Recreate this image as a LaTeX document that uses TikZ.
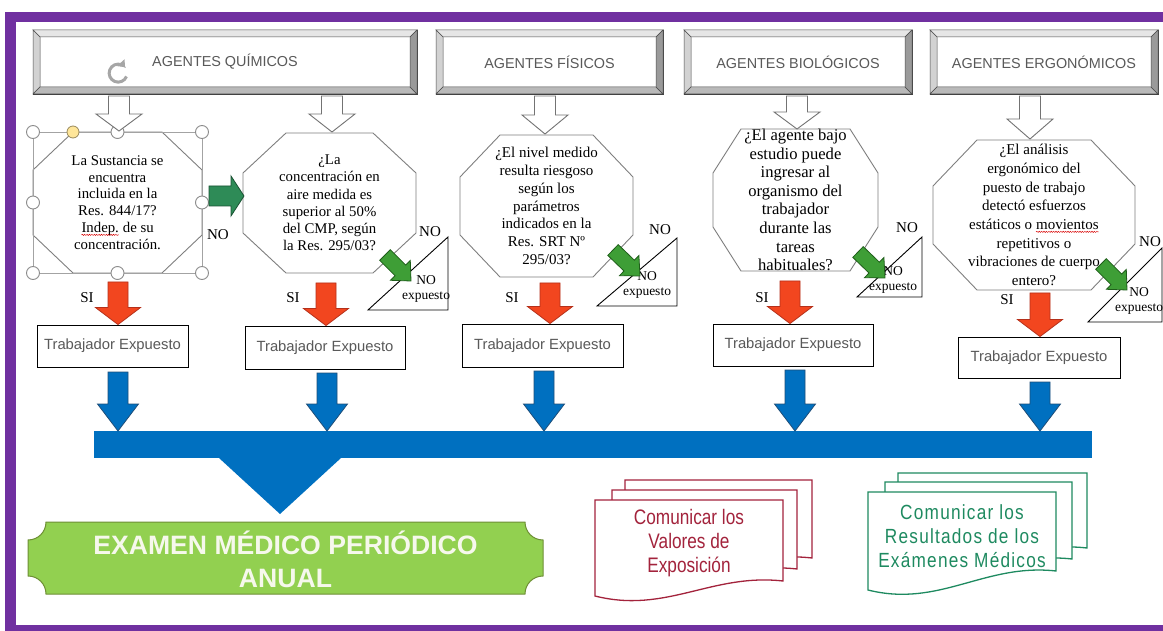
\documentclass[tikz,border=0pt]{standalone}
\usepackage{fontspec}
\setmainfont{Liberation Serif}
\newfontfamily\arialfont{Liberation Sans}
\newfontfamily\narrowfont[FakeStretch=0.82]{Liberation Sans}
\newfontfamily\spacedfont[FakeStretch=0.84,LetterSpace=6]{Liberation Sans}
\usetikzlibrary{calc,arrows.meta,decorations.pathmorphing}

\definecolor{framepurple}{HTML}{7030A0}
\definecolor{hdrtext}{HTML}{595959}
\definecolor{bevtop}{HTML}{E6E6E6}
\definecolor{bevleft}{HTML}{D2D2D2}
\definecolor{bevbottom}{HTML}{B9B9B9}
\definecolor{bevright}{HTML}{9A9A9A}
\definecolor{octline}{HTML}{7F7F7F}
\definecolor{redfill}{HTML}{F2461F}
\definecolor{redline}{HTML}{B5301A}
\definecolor{greenfill}{HTML}{3E9E36}
\definecolor{greenline}{HTML}{1F5E1A}
\definecolor{tealfill}{HTML}{2E8B57}
\definecolor{tealline}{HTML}{1A5233}
\definecolor{bluefill}{HTML}{0070C0}
\definecolor{blueline}{HTML}{1F4E79}
\definecolor{bannerfill}{HTML}{92D050}
\definecolor{bannerline}{HTML}{6E8F35}
\definecolor{bannertext}{HTML}{F6F8EC}
\definecolor{docred}{HTML}{A3233C}
\definecolor{docgreen}{HTML}{1E8A60}
\definecolor{handlegray}{HTML}{8C8C8C}
\definecolor{handleyellow}{HTML}{FFE699}

% word marked by the spell checker: red wavy underline
\newcommand\spellerr[1]{\tikz[baseline=(sw.base)]{\node[shape=rectangle,draw=none,fill=none,inner sep=0pt,outer sep=0pt,minimum width=0pt,minimum height=0pt,anchor=base] (sw) at (0,0) {#1};\draw[draw=red!85!black,line width=0.45pt,decorate,decoration={snake,amplitude=0.6pt,segment length=2.4pt}] ([yshift=-2.4pt]sw.base west) -- ([yshift=-2.4pt]sw.base east);}}

% block arrow: #1 style, #2 tail, #3 tip, #4 half shaft, #5 half head, #6 head length
\newcommand\blockarrow[6]{%
  \path ($(#3)!#6!(#2)$) coordinate (bah);
  \draw[#1] ($(#2)!#4!90:(#3)$) -- ($(bah)!#4!90:(#3)$) -- ($(bah)!#5!90:(#3)$) -- (#3)
    -- ($(bah)!#5!-90:(#3)$) -- ($(bah)!#4!-90:(#3)$) -- ($(#2)!#4!-90:(#3)$) -- cycle;}

% octagon around a node: #1 node, #2 horizontal cut, #3 vertical cut
\newcommand\octframe[3]{%
  \draw[octa] ($(#1.north west)+(#2,0)$) -- ($(#1.north east)+(-#2,0)$) -- ($(#1.north east)+(0,#3)$)
    -- ($(#1.south east)+(0,-#3)$) -- ($(#1.south east)+(-#2,0)$) -- ($(#1.south west)+(#2,0)$)
    -- ($(#1.south west)+(0,-#3)$) -- ($(#1.north west)+(0,#3)$) -- cycle;}

% bevelled frame of a header node: #1 node, #2 bevel width
\newcommand\bevelframe[2]{%
  \coordinate (bnw) at ($(#1.north west)+(#2,#2)$);
  \coordinate (bne) at ($(#1.north east)+(-#2,#2)$);
  \coordinate (bse) at ($(#1.south east)+(-#2,-#2)$);
  \coordinate (bsw) at ($(#1.south west)+(#2,-#2)$);
  \filldraw[bevedge,fill=bevtop] (#1.north west) -- (#1.north east) -- (bne) -- (bnw) -- cycle;
  \filldraw[bevedge,fill=bevleft] (#1.north west) -- (bnw) -- (bsw) -- (#1.south west) -- cycle;
  \filldraw[bevedge,fill=bevbottom] (#1.south west) -- (bsw) -- (bse) -- (#1.south east) -- cycle;
  \filldraw[bevedge,fill=bevright] (#1.north east) -- (#1.south east) -- (bse) -- (bne) -- cycle;}

% one sheet of a multi-page document: #1 style, #2 x0, #3 top, #4 x1, #5 bottom left, #6 bottom right
\newcommand\docpage[6]{%
  \filldraw[#1] (#2,#3) -- (#4,#3) -- (#4,#6)
    .. controls ({#2+0.62*(#4-#2)},{#6-8}) and ({#2+0.38*(#4-#2)},{#5+18}) .. (#2,#5) -- cycle;}

\begin{document}
\begin{tikzpicture}[x=1pt,y=-1pt,
  hdr/.style={draw=black!75,fill=white,minimum height=64pt,inner sep=0pt,outer sep=0pt,
    font=\arialfont\fontsize{14.4}{16}\selectfont,text=hdrtext},
  bevedge/.style={draw=black!70,line width=0.5pt},
  qbox/.style={shape=rectangle,inner sep=0pt,outer sep=0pt,align=center},
  octa/.style={draw=octline,line width=0.9pt},
  hollow/.style={draw=black!55,fill=white,line width=0.9pt},
  redarrow/.style={draw=redline,fill=redfill,line width=0.8pt},
  greenarrow/.style={draw=greenline,fill=greenfill,line width=0.8pt},
  tealarrow/.style={draw=tealline,fill=tealfill,line width=0.8pt},
  bluearrow/.style={draw=blueline,fill=bluefill,line width=0.8pt},
  worker/.style={draw=black,line width=0.9pt,fill=white,inner sep=0pt,
    font=\arialfont\fontsize{14.8}{16}\selectfont,text=hdrtext},
  lbl/.style={inner sep=0pt,font=\fontsize{15}{17}\selectfont},
  notri/.style={draw=black,line width=0.9pt,fill=white,line join=miter},
  notxt/.style={inner sep=0pt,align=center,font=\fontsize{13.5}{15.5}\selectfont},
  handle/.style={draw=handlegray,fill=white,line width=0.9pt},
  redpage/.style={draw=docred,line width=1.3pt,fill=white},
  greenpage/.style={draw=docgreen,line width=1.3pt,fill=white}]

\useasboundingbox (0,0) rectangle (1163,631);
\fill[white] (0,0) rectangle (1163,631);

% purple frame
\fill[framepurple] (5,12) rectangle (1163,22);
\fill[framepurple] (5,12) rectangle (16,631);
\fill[framepurple] (5,625) rectangle (1163,631);

% header boxes
\node[hdr,minimum width=384pt] (h1) at (225,62) {AGENTES QUÍMICOS};
\node[hdr,minimum width=227pt] (h2) at (549.5,62) {AGENTES FÍSICOS};
\node[hdr,minimum width=228pt] (h3) at (798,62) {AGENTES BIOLÓGICOS};
\node[hdr,minimum width=228pt] (h4) at (1044,62) {AGENTES ERGONÓMICOS};
\bevelframe{h1}{7}
\bevelframe{h2}{7}
\bevelframe{h3}{7}
\bevelframe{h4}{7}

% question octagons
\node[qbox,minimum width=169pt,minimum height=141pt,font=\fontsize{14.8}{16.8}\selectfont] (o1) at (117.5,202.5)
  {La Sustancia se\\encuentra\\incluida en la\\Res. 844/17?\\\spellerr{Indep.} de su\\concentración.};
\node[qbox,minimum width=173pt,minimum height=140pt,font=\fontsize{14.8}{17.3}\selectfont] (o2) at (329.5,203)
  {¿La\\concentración en\\aire medida es\\superior al 50\%\\del CMP, según\\la Res. 295/03?};
\node[qbox,minimum width=173pt,minimum height=142pt,font=\fontsize{15}{17.8}\selectfont] (o3) at (546.5,206)
  {¿El nivel medido\\resulta riesgoso\\según los\\parámetros\\indicados en la\\Res. SRT Nº\\295/03?};
\node[qbox,minimum width=165pt,minimum height=142pt,font=\fontsize{16.6}{18.6}\selectfont] (o4) at (795.5,200)
  {¿El agente bajo\\estudio puede\\ingresar al\\organismo del\\trabajador\\durante las\\tareas\\habituales?};
\node[qbox,minimum width=202pt,minimum height=150pt,font=\fontsize{15}{18.7}\selectfont] (o5) at (1034,215)
  {¿El análisis\\ergonómico del\\puesto de trabajo\\detectó esfuerzos\\estáticos o \spellerr{movientos}\\repetitivos o\\vibraciones de cuerpo\\entero?};
\octframe{o1}{40}{38}
\octframe{o2}{43}{40}
\octframe{o3}{40}{42}
\octframe{o4}{28}{44}
\octframe{o5}{44}{46}

% selection frame of the first octagon
\draw[draw=handlegray!80,line width=0.6pt] (o1.north west) rectangle (o1.south east);
\foreach \p in {north west,north,north east,east,south east,south,south west,west}
  \draw[handle] (o1.\p) circle[radius=6.5pt];
\draw[draw=handleyellow!60!black,fill=handleyellow,line width=0.8pt] ($(o1.north west)+(40,0)$) circle[radius=6pt];
\coordinate (rot) at (118,80);
\draw[draw=black!35,line width=3pt,-{Triangle[length=6pt,width=10pt]}]
  ($(rot)+(8.5,-3.5)$) arc[start angle=-22,end angle=-318,radius=9pt];

% hollow arrows from the headers
\coordinate (a1s) at (119,96);   \coordinate (a1e) at (119,131);
\coordinate (a2s) at (332,96);   \coordinate (a2e) at (332,132);
\coordinate (a3s) at (545,96);   \coordinate (a3e) at (545,134);
\coordinate (a4s) at (797,96);   \coordinate (a4e) at (797,129);
\coordinate (a5s) at (1030,96);  \coordinate (a5e) at (1030,139);
\blockarrow{hollow}{a1s}{a1e}{10.5pt}{23pt}{17pt}
\blockarrow{hollow}{a2s}{a2e}{10.5pt}{23pt}{18pt}
\blockarrow{hollow}{a3s}{a3e}{10.5pt}{23pt}{19pt}
\blockarrow{hollow}{a4s}{a4e}{10.5pt}{23pt}{17pt}
\blockarrow{hollow}{a5s}{a5e}{10.5pt}{23pt}{20pt}

% NO branch of the first question
\coordinate (g1s) at (209,196);  \coordinate (g1e) at (244,196);
\blockarrow{tealarrow}{g1s}{g1e}{10pt}{20pt}{13pt}
\node[lbl] (no1) at (218,235) {NO};

% "NO expuesto" triangles
\coordinate (n2) at (448,310);
\coordinate (n3) at (677,306);
\coordinate (n4) at (922,297);
\coordinate (n5) at (1162,322);
\draw[notri] (n2) -- ++(-80,0) -- ++(80,-73) -- cycle;
\draw[notri] (n3) -- ++(-80,0) -- ++(80,-68) -- cycle;
\draw[notri] (n4) -- ++(-65,0) -- ++(65,-60) -- cycle;
\draw[notri] (n5) -- ++(-74,0) -- ++(74,-74) -- cycle;
\node[notxt] (t2) at ($(n2)+(-22,-21)$) {NO\\expuesto};
\node[notxt] (t3) at ($(n3)+(-30,-21)$) {NO\\expuesto};
\node[notxt] (t4) at ($(n4)+(-29,-17)$) {NO\\expuesto};
\node[notxt] (t5) at ($(n5)+(-23,-21)$) {NO\\expuesto};
\node[lbl] (no2) at (430,232) {NO};
\node[lbl] (no3) at (660,230) {NO};
\node[lbl] (no4) at (907,228) {NO};
\node[lbl] (no5) at (1150,242) {NO};
\coordinate (g2s) at (385,255);  \coordinate (g2e) at (411,281);
\coordinate (g3s) at (613,250);  \coordinate (g3e) at (640,276);
\coordinate (g4s) at (858,252);  \coordinate (g4e) at (885,278);
\coordinate (g5s) at (1101,264); \coordinate (g5e) at (1127,290);
\blockarrow{greenarrow}{g2s}{g2e}{7.5pt}{14pt}{15pt}
\blockarrow{greenarrow}{g3s}{g3e}{7.5pt}{14pt}{15pt}
\blockarrow{greenarrow}{g4s}{g4e}{7.5pt}{14pt}{15pt}
\blockarrow{greenarrow}{g5s}{g5e}{7.5pt}{14pt}{15pt}

% "Trabajador Expuesto" boxes
\node[worker,minimum width=151pt,minimum height=42pt] (w1) at (112.5,346) {Trabajador Expuesto};
\node[worker,minimum width=160pt,minimum height=43pt] (w2) at (325,347.5) {Trabajador Expuesto};
\node[worker,minimum width=161pt,minimum height=43pt] (w3) at (542.5,345.5) {Trabajador Expuesto};
\node[worker,minimum width=160pt,minimum height=42pt] (w4) at (793,345) {Trabajador Expuesto};
\node[worker,minimum width=162pt,minimum height=41pt] (w5) at (1039,357.5) {Trabajador Expuesto};

% SI branches
\coordinate (r1s) at (118,282);  \coordinate (r1e) at ($(w1.north)+(5.5,0)$);
\coordinate (r2s) at (326,283);  \coordinate (r2e) at ($(w2.north)+(1,0)$);
\coordinate (r3s) at (550,283);  \coordinate (r3e) at ($(w3.north)+(7.5,0)$);
\coordinate (r4s) at (790,281);  \coordinate (r4e) at ($(w4.north)+(-3,0)$);
\coordinate (r5s) at (1040,293); \coordinate (r5e) at ($(w5.north)+(1,0)$);
\blockarrow{redarrow}{r1s}{r1e}{10pt}{22.5pt}{17pt}
\blockarrow{redarrow}{r2s}{r2e}{10pt}{22.5pt}{17pt}
\blockarrow{redarrow}{r3s}{r3e}{10pt}{22.5pt}{17pt}
\blockarrow{redarrow}{r4s}{r4e}{10pt}{22.5pt}{17pt}
\blockarrow{redarrow}{r5s}{r5e}{10pt}{22.5pt}{17pt}
\node[lbl] (si1) at (87,298) {SI};
\node[lbl] (si2) at (293,298) {SI};
\node[lbl] (si3) at (512,298) {SI};
\node[lbl] (si4) at (762,298) {SI};
\node[lbl] (si5) at (1007,300) {SI};

% collecting bar
\fill[bluefill] (94,431) rectangle (1092,458);
\fill[bluefill] (219,458) -- (341,458) -- (280,514) -- cycle;
\coordinate (b1s) at (118,372);  \coordinate (b1e) at (118,431);
\coordinate (b2s) at (327,373);  \coordinate (b2e) at (327,431);
\coordinate (b3s) at (544,371);  \coordinate (b3e) at (544,431);
\coordinate (b4s) at (795,370);  \coordinate (b4e) at (795,431);
\coordinate (b5s) at (1040,382); \coordinate (b5e) at (1040,431);
\blockarrow{bluearrow}{b1s}{b1e}{10pt}{20.5pt}{27pt}
\blockarrow{bluearrow}{b2s}{b2e}{10pt}{20.5pt}{27pt}
\blockarrow{bluearrow}{b3s}{b3e}{10pt}{20.5pt}{27pt}
\blockarrow{bluearrow}{b4s}{b4e}{10pt}{20.5pt}{27pt}
\blockarrow{bluearrow}{b5s}{b5e}{10pt}{20.5pt}{27pt}

% periodic medical examination banner
\filldraw[draw=bannerline,fill=bannerfill,line width=1pt]
  (46,522) -- (525,522) .. controls (525,532) and (533,540) .. (543,540) -- (543,576)
  .. controls (533,576) and (525,584) .. (525,594) -- (46,594)
  .. controls (46,584) and (38,576) .. (28,576) -- (28,540)
  .. controls (38,540) and (46,532) .. (46,522) -- cycle;
\node[inner sep=0pt,align=center,text=bannertext,font=\arialfont\bfseries\fontsize{26.6}{33}\selectfont]
  (exam) at (285.5,559) {EXAMEN MÉDICO PERIÓDICO\\ANUAL};

% communication documents
\docpage{redpage}{625}{480}{812}{570}{558}
\docpage{redpage}{612}{490}{797}{582}{569}
\docpage{redpage}{595}{500}{783}{596}{581}
\node[inner sep=0pt,align=center,text=docred,font=\narrowfont\fontsize{21}{24}\selectfont]
  (docA) at (689,543) {Comunicar los\\Valores de\\Exposición};
\docpage{greenpage}{898}{473}{1087}{561}{548}
\docpage{greenpage}{885}{482}{1072}{575}{559}
\docpage{greenpage}{868}{492}{1056}{590}{571}
\node[inner sep=0pt,align=center,text=docgreen,font=\spacedfont\fontsize{20.5}{24}\selectfont]
  (docB) at (962,536) {Comunicar los\\Resultados de los\\Exámenes Médicos};
\end{tikzpicture}
\end{document}
